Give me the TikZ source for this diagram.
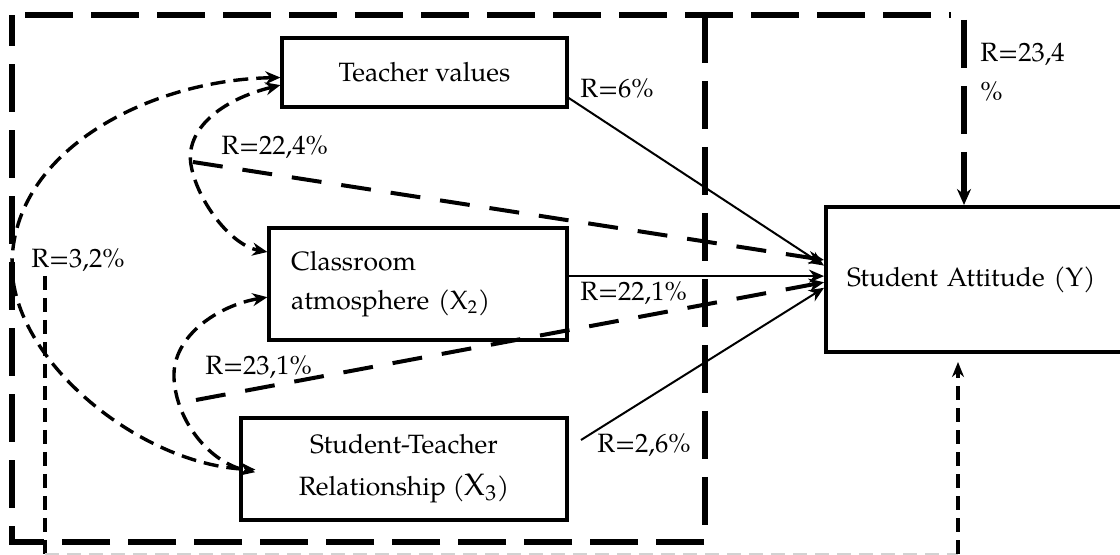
\documentclass[tikz,border=0pt]{standalone}
\usepackage{fontspec}
\setmainfont{TeX Gyre Pagella}
\usetikzlibrary{arrows.meta}

\tikzset{
  frameline/.style={line width=3pt,dash pattern=on 24pt off 9pt},
  curvedash/.style={line width=1.7pt,dash pattern=on 7.5pt off 4pt},
  longdash/.style={line width=2pt,dash pattern=on 15pt off 10pt},
  thindash/.style={line width=1.7pt,dash pattern=on 7pt off 4pt},
  solidarrow/.style={line width=1pt}
}

\begin{document}
\begin{tikzpicture}[x=0.5pt,y=-0.5pt,font=\fontsize{13.25}{19.5}\selectfont]
	\useasboundingbox (0,0) rectangle (1120,555);

	\begin{scope}[every node/.style={rectangle,draw,line width=1.6pt,inner sep=0pt}]
	    \node[minimum width=142.5pt,minimum height=34.5pt] (tv) at (424.5,72.5) {Teacher values};
	    \node[minimum height=56pt,text width=127pt,inner xsep=11pt,align=left] (ca) at (418,284)
	        {Classroom\\atmosphere (X\textsubscript{2})};
	    \node[minimum width=163pt,minimum height=51pt,align=center,font=\fontsize{13.25}{21}\selectfont] (st) at (404,469)
	        {Student-Teacher\\Relationship ({\fontsize{15.5}{21}\selectfont X\textsubscript{3}})};
	    \node[line width=2pt,minimum height=72.5pt,text width=136pt,inner xsep=10.5pt,align=left] (sa) at (983,279.5)
	        {Student Attitude (Y)};
	\end{scope}

	% dashed frames
	\draw[frameline] (705,15) -- (705,542) -- (12,542) -- (12,15);
	\draw[frameline] (25,15) -- (951,15);
	\coordinate (tc) at (964,20);
	\draw[frameline,-{Stealth[length=8pt,width=7pt]}] (tc) -- (tc |- sa.north);

	\coordinate (tn) at (45,276);
	\coordinate (bl) at (45,554);
	\coordinate (br) at (958,554);
	\draw[thindash] (tn) -- (bl);
	\draw[thindash,gray!35,line width=1pt] (bl) -- (br);
	\draw[thindash,-{Stealth[length=7.5pt,width=6pt]},shorten >=4pt] (br) -- (br |- sa.south);

	\begin{scope}[>={Stealth[length=7.5pt,width=6.5pt]}]
	    \draw[curvedash,<->,shorten >=-8pt] (tv.182) .. controls (150,80) and (12,150) .. (12,265)
	        .. controls (12,360) and (140,465) .. (st.west);
	    \draw[curvedash,<->] (tv.185) .. controls (220,100) and (185,130) .. (191,165)
	        .. controls (197,200) and (230,245) .. (ca.168);
	    \draw[curvedash,<->,shorten >=-8pt] (ca.185) .. controls (220,305) and (172,335) .. (174,378)
	        .. controls (176,421) and (210,463) .. (st.west);

	    \coordinate (ua) at (193,162);
	    \coordinate (la) at (196,400);
	    \coordinate (sx) at (581,440);
	    \draw[longdash,->] (ua) -- (sa.173.5);
	    \draw[longdash,->] (la) -- (sa.181.5);
	    \draw[solidarrow,->] (tv.-10) -- (sa.175);
	    \draw[solidarrow,->] (ca.3) -- (ca.3 -| sa.west);
	    \draw[solidarrow,->] (sx) -- (sa.183);
	\end{scope}

	\begin{scope}[every node/.style={inner sep=0pt,anchor=west}]
	    \node (r224) at (221,147) {R=22,4\%};
	    \node (r32) at (31,260) {R=3,2\%};
	    \node (r6) at (580,88) {R=6\%};
	    \node[align=left,anchor=north west] (r234) at (980,43) {R=23,4\\\%};
	    \node (r221) at (580,293) {R=22,1\%};
	    \node (r231) at (205,367) {R=23,1\%};
	    \node (r26) at (597,445) {R=2,6\%};
	\end{scope}
\end{tikzpicture}
\end{document}
